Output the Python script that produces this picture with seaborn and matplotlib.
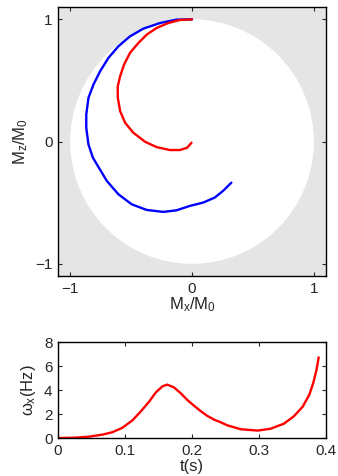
import numpy as np
import pandas as pd
import matplotlib
matplotlib.use("Agg")
import matplotlib.pyplot as plt
from matplotlib.patches import Circle
import seaborn as sns

# red trajectory (Mx/M0, Mz/M0)
red_mx = [0.0, -0.1, -0.195, -0.29, -0.372, -0.44, -0.509, -0.558, -0.59, -0.61,
          -0.609, -0.59, -0.549, -0.482, -0.386, -0.29, -0.182, -0.1, -0.04, -0.004]
red_mz = [1.0, 0.995, 0.97, 0.93, 0.875, 0.807, 0.726, 0.63, 0.535, 0.45,
          0.358, 0.249, 0.154, 0.073, -0.001, -0.045, -0.069, -0.069, -0.05, -0.009]

# blue trajectory
blue_mx = [0.0, -0.127, -0.263, -0.4, -0.509, -0.604, -0.686, -0.754, -0.809, -0.85,
           -0.868, -0.868, -0.85, -0.814, -0.781, -0.699, -0.604, -0.495, -0.372,
           -0.236, -0.127, -0.018, 0.091, 0.186, 0.254, 0.323]
blue_mz = [1.0, 0.998, 0.97, 0.924, 0.861, 0.78, 0.685, 0.576, 0.467, 0.358,
           0.222, 0.113, -0.023, -0.131, -0.186, -0.322, -0.431, -0.513, -0.559,
           -0.575, -0.562, -0.526, -0.499, -0.458, -0.404, -0.336]

# omega_x over time
t_s = [0.0, 0.026, 0.046, 0.066, 0.081, 0.096, 0.111, 0.123, 0.136, 0.146, 0.156,
       0.163, 0.173, 0.183, 0.193, 0.203, 0.213, 0.223, 0.233, 0.242, 0.253, 0.273,
       0.298, 0.317, 0.337, 0.352, 0.365, 0.375, 0.381, 0.386, 0.389]
w_hz = [0.0, 0.03, 0.11, 0.28, 0.48, 0.85, 1.47, 2.18, 3.03, 3.8, 4.31,
        4.45, 4.22, 3.74, 3.17, 2.69, 2.24, 1.84, 1.53, 1.33, 1.05, 0.73,
        0.62, 0.77, 1.19, 1.81, 2.6, 3.6, 4.6, 5.73, 6.72]

sns.set_style("ticks")
plt.rcParams["font.family"] = ["Liberation Sans", "DejaVu Sans"]
plt.rcParams["mathtext.fontset"] = "custom"
plt.rcParams["mathtext.rm"] = "Liberation Sans"
plt.rcParams["mathtext.it"] = "Liberation Sans"
plt.rcParams["mathtext.sf"] = "Liberation Sans"
plt.rcParams["lines.solid_joinstyle"] = "round"
plt.rcParams["lines.solid_capstyle"] = "round"

fig = plt.figure(figsize=(3.38, 4.76), dpi=100)
ax1 = fig.add_axes([0.1716, 0.420, 0.793, 0.565])
ax2 = fig.add_axes([0.1716, 0.0798, 0.793, 0.2017])

ax1.set_facecolor("#e5e5e5")
ax1.add_patch(Circle((0, 0), 1.0, facecolor="white", edgecolor="none", zorder=0))

sns.lineplot(x=blue_mx, y=blue_mz, sort=False, estimator=None, color="#0000ff",
             linewidth=1.7, ax=ax1)
sns.lineplot(x=red_mx, y=red_mz, sort=False, estimator=None, color="#ff0000",
             linewidth=1.7, ax=ax1)
ax1.set_xlim(-1.1, 1.1)
ax1.set_ylim(-1.1, 1.1)
ax1.set_xticks([-1, 0, 1])
ax1.set_yticks([-1, 0, 1])
ax1.set_xlabel(r"M$_\mathrm{x}$/M$_\mathrm{0}$", fontsize=12, labelpad=0)
ax1.set_ylabel(r"M$_\mathrm{z}$/M$_\mathrm{0}$", fontsize=12, labelpad=4)

sns.lineplot(x=t_s, y=w_hz, sort=False, estimator=None, color="#ff0000",
             linewidth=1.7, ax=ax2)
ax2.set_xlim(0, 0.4)
ax2.set_ylim(0, 8)
ax2.set_xticks([0, 0.1, 0.2, 0.3, 0.4])
ax2.set_xticklabels(["0", "0.1", "0.2", "0.3", "0.4"])
ax2.set_yticks([0, 2, 4, 6, 8])
ax2.set_xlabel("t(s)", fontsize=12, labelpad=1)
ax2.set_ylabel(r"$\omega_\mathrm{x}$(Hz)", fontsize=12, labelpad=4)

for ax in (ax1, ax2):
    ax.tick_params(direction="in", top=True, right=True, labelsize=11,
                   length=3, width=0.8, pad=4)
    for sp in ax.spines.values():
        sp.set_visible(True)
        sp.set_linewidth(1.0)
        sp.set_color("black")

fig.savefig("out.png", dpi=100)
